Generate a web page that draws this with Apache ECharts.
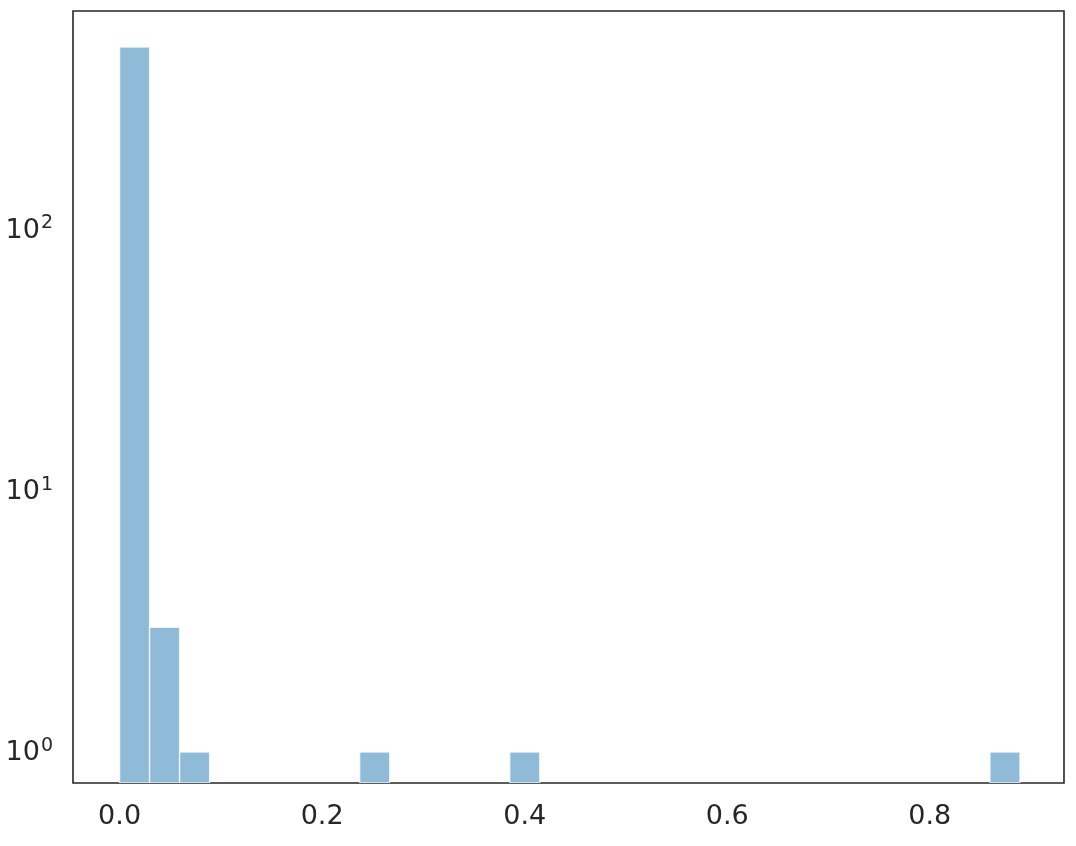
<!DOCTYPE html>
<html>
<head>
<meta charset="utf-8">
<style>
  html, body { margin: 0; padding: 0; background: #ffffff; }
  #chart { width: 1076px; height: 846px; }
</style>
<script src="https://cdn.jsdelivr.net/npm/echarts@6/dist/echarts.min.js"></script>
</head>
<body>
<div id="chart"></div>
<script>
// Histogram counts (30 equal bins between dataMin and dataMax)
const counts = [497, 3, 1, 0, 0, 0, 0, 0, 1, 0, 0, 0, 0, 1, 0,
                0, 0, 0, 0, 0, 0, 0, 0, 0, 0, 0, 0, 0, 0, 1];
const dataRange = [0.0, 0.889];
const xLimits = [-0.046, 0.9325];
const yLimits = [0.761, 682];
const xTickLabels = ['0.0', '0.2', '0.4', '0.6', '0.8'];
const yTickLabels = ['10^0', '10^1', '10^2'];

const nBins = counts.length;
const binW = (dataRange[1] - dataRange[0]) / nBins;
const seriesData = counts.map((c, i) => [i, c]);

const chart = echarts.init(document.getElementById('chart'), null, { renderer: 'canvas' });
const textColor = '#262626';
const font = 'DejaVu Sans';

chart.setOption({
  backgroundColor: '#ffffff',
  animation: false,
  grid: {
    left: 73, right: 12, top: 11, bottom: 63,
    show: true, borderColor: '#262626', borderWidth: 1.6,
    backgroundColor: 'transparent'
  },
  xAxis: {
    type: 'value',
    min: xLimits[0], max: xLimits[1],
    splitLine: { show: false },
    axisLine: { show: false },
    axisTick: { show: false },
    axisLabel: {
      color: textColor, fontSize: 27, fontFamily: font, margin: 20,
      showMinLabel: false, showMaxLabel: false,
      formatter: function (v) {
        const k = Math.round(v / 0.2);
        if (Math.abs(v / 0.2 - k) > 1e-6) return '';
        return xTickLabels[k] !== undefined ? xTickLabels[k] : '';
      }
    }
  },
  yAxis: {
    type: 'log',
    logBase: 10,
    min: yLimits[0], max: yLimits[1],
    splitLine: { show: false },
    axisLine: { show: false },
    axisTick: { show: false },
    axisLabel: {
      color: textColor, fontFamily: font, margin: 20,
      formatter: function (v) {
        const e = Math.log10(v);
        const k = Math.round(e);
        if (Math.abs(e - k) > 1e-6) return '';
        const lbl = yTickLabels[k];
        if (!lbl) return '';
        const parts = lbl.split('^');
        return '{b|' + parts[0] + '}{s|' + parts[1] + '}';
      },
      rich: {
        b: { fontSize: 27, fontFamily: font, color: textColor, lineHeight: 30, verticalAlign: 'bottom' },
        s: { fontSize: 19, fontFamily: font, color: textColor, lineHeight: 30, verticalAlign: 'top', padding: [0, 0, 0, 1] }
      }
    }
  },
  series: [{
    type: 'custom',
    clip: true,
    data: seriesData,
    encode: { x: 0, y: 1 },
    renderItem: function (params, api) {
      const i = api.value(0);
      const c = api.value(1);
      if (!c) return null;
      const x0 = dataRange[0] + i * binW;
      const pTop = api.coord([x0, c]);
      const pBot = api.coord([x0 + binW, yLimits[0]]);
      return {
        type: 'rect',
        shape: { x: pTop[0], y: pTop[1], width: pBot[0] - pTop[0], height: pBot[1] - pTop[1] },
        style: { fill: '#8fbbd9', stroke: 'rgba(255,255,255,0.75)', lineWidth: 1.4 }
      };
    }
  }]
});
</script>
</body>
</html>
